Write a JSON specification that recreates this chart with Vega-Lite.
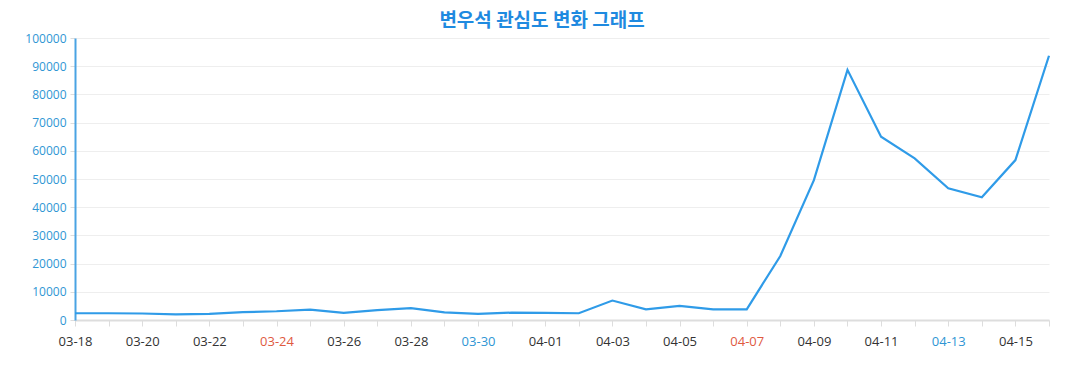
{
  "$schema": "https://vega.github.io/schema/vega-lite/v6.json",
  "autosize": {"type": "none"},
  "width": 974,
  "height": 282,
  "padding": {"left": 75, "top": 38, "right": 28, "bottom": 70},
  "background": "white",
  "title": {
    "text": "변우석 관심도 변화 그래프",
    "font": "Noto Sans CJK KR",
    "fontSize": 19,
    "fontWeight": "bold",
    "color": "#1f8ae0",
    "anchor": "middle",
    "dx": -20,
    "dy": 5,
    "offset": 6
  },
  "config": {"view": {"stroke": null}},
  "data": {
    "values": [
      {"date": "03-18", "value": 2400},
      {"date": "03-19", "value": 2400},
      {"date": "03-20", "value": 2300},
      {"date": "03-21", "value": 2000},
      {"date": "03-22", "value": 2200},
      {"date": "03-23", "value": 2800},
      {"date": "03-24", "value": 3100},
      {"date": "03-25", "value": 3700},
      {"date": "03-26", "value": 2500},
      {"date": "03-27", "value": 3500},
      {"date": "03-28", "value": 4200},
      {"date": "03-29", "value": 2700},
      {"date": "03-30", "value": 2200},
      {"date": "03-31", "value": 2600},
      {"date": "04-01", "value": 2500},
      {"date": "04-02", "value": 2400},
      {"date": "04-03", "value": 6900},
      {"date": "04-04", "value": 3800},
      {"date": "04-05", "value": 5000},
      {"date": "04-06", "value": 3800},
      {"date": "04-07", "value": 3800},
      {"date": "04-08", "value": 22700},
      {"date": "04-09", "value": 49600},
      {"date": "04-10", "value": 88700},
      {"date": "04-11", "value": 65000},
      {"date": "04-12", "value": 57300},
      {"date": "04-13", "value": 46700},
      {"date": "04-14", "value": 43500},
      {"date": "04-15", "value": 56700},
      {"date": "04-16", "value": 93700}
    ]
  },
  "mark": {"type": "line", "color": "#2f9be8", "strokeWidth": 2.2},
  "encoding": {
    "x": {
      "field": "date",
      "type": "ordinal",
      "sort": null,
      "scale": {"type": "point", "padding": 0},
      "axis": {
        "title": null,
        "labelAngle": 0,
        "labelFont": "Open Sans",
        "labelFontSize": 13,
        "labelPadding": 9,
        "labelExpr": "indexof(['03-18','03-20','03-22','03-24','03-26','03-28','03-30','04-01','04-03','04-05','04-07','04-09','04-11','04-13','04-15'], datum.value) >= 0 ? datum.label : ''",
        "labelColor": {"expr": "(datum.value == '03-24' || datum.value == '04-07') ? '#e05a3f' : ((datum.value == '03-30' || datum.value == '04-13') ? '#2f96d4' : '#333333')"},
        "domainColor": "#dddddd",
        "domainWidth": 2,
        "tickColor": "#dddddd",
        "tickSize": 6,
        "tickWidth": 1,
        "grid": false
      }
    },
    "y": {
      "field": "value",
      "type": "quantitative",
      "scale": {"domain": [0, 100000], "nice": false},
      "axis": {
        "title": null,
        "values": [0, 10000, 20000, 30000, 40000, 50000, 60000, 70000, 80000, 90000, 100000],
        "format": "d",
        "labelFont": "Open Sans",
        "labelFontSize": 12,
        "labelColor": "#2f96d4",
        "labelPadding": 4,
        "domainColor": "#4aa3e3",
        "domainWidth": 2,
        "tickColor": "#dddddd",
        "tickSize": 5,
        "gridColor": "#eeeeee",
        "gridWidth": 1
      }
    }
  }
}
